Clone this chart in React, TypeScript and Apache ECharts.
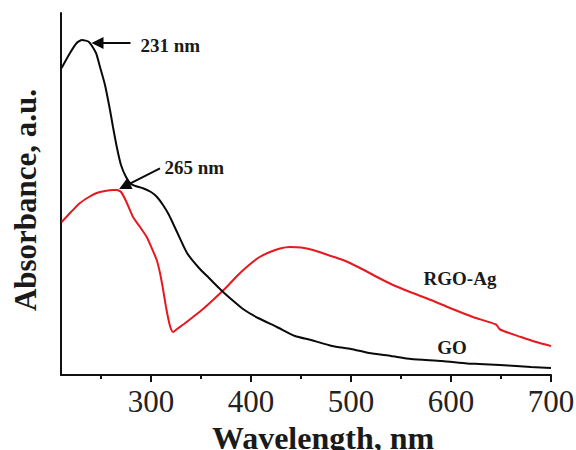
import React, { useEffect, useRef } from "react";
import * as echarts from "echarts";

// GO spectrum (wavelength in nm, absorbance in a.u.)
const goWavelength = [210.6, 219, 225.7, 231, 238, 245, 249, 254, 259, 262, 266, 270, 275, 280, 286, 292, 300, 306, 312, 318, 326, 336, 348, 358, 370, 380, 392, 407, 426, 444, 460, 481, 500, 518, 540, 560, 591, 616, 628, 649, 665, 680, 700];
const goAbsorbance = [3.07, 3.22, 3.32, 3.35, 3.33, 3.22, 3.08, 2.9, 2.65, 2.48, 2.27, 2.1, 1.98, 1.91, 1.885, 1.867, 1.83, 1.78, 1.7, 1.6, 1.43, 1.22, 1.07, 0.97, 0.85, 0.76, 0.66, 0.57, 0.48, 0.39, 0.35, 0.29, 0.26, 0.22, 0.19, 0.16, 0.14, 0.115, 0.11, 0.1, 0.09, 0.08, 0.07];

// RGO-Ag spectrum
const rgoWavelength = [210.7, 220, 229, 238, 245.7, 254, 262, 266, 270, 275, 282, 289, 295.7, 300.7, 305.7, 309, 312, 315, 318, 320, 322, 326, 333, 342, 352, 362, 375.7, 385, 395.7, 407, 419, 429, 439, 450, 462, 477, 492, 509, 526, 542, 559, 580, 599, 622, 645, 649, 670, 685, 700];
const rgoAbsorbance = [1.53, 1.63, 1.72, 1.78, 1.82, 1.84, 1.85, 1.85, 1.83, 1.74, 1.58, 1.48, 1.38, 1.27, 1.15, 1.02, 0.86, 0.68, 0.53, 0.46, 0.43, 0.46, 0.51, 0.58, 0.66, 0.75, 0.88, 0.98, 1.08, 1.17, 1.23, 1.265, 1.28, 1.275, 1.25, 1.2, 1.15, 1.07, 0.98, 0.9, 0.83, 0.75, 0.67, 0.58, 0.505, 0.455, 0.38, 0.33, 0.29];

// Axis ticks
const xMajorTicks = [300, 400, 500, 600, 700];
const xMinorTicks = [250, 350, 450, 550, 650];
const xMin = 210;
const xMax = 700;
const yMax = 3.62;

// Annotations (wavelength, absorbance)
const peak231Label = "231 nm";
const peak231Arrow = [[279.5, 3.32], [246.5, 3.32]];
const peak231Text = [289, 3.3];
const peak265Label = "265 nm";
const peak265Arrow = [[309, 2.067], [273.5, 1.887]];
const peak265Text = [313, 2.08];
const rgoLabel = "RGO-Ag";
const rgoLabelPos = [609, 0.97];
const goLabel = "GO";
const goLabelPos = [601, 0.28];

const serif = "'Liberation Serif', 'Times New Roman', serif";

export default function App() {
  const ref = useRef<HTMLDivElement>(null);
  useEffect(() => {
    if (!ref.current) return;
    const chart = echarts.init(ref.current, null, { renderer: "svg" });
    const goData = goWavelength.map((w, i) => [w, goAbsorbance[i]]);
    const rgoData = rgoWavelength.map((w, i) => [w, rgoAbsorbance[i]]);
    const annoLabel = {
      show: true,
      fontFamily: serif,
      fontWeight: "bold",
      fontSize: 19,
      color: "#1a1a1a",
    };
    const option: any = {
      animation: false,
      backgroundColor: "#ffffff",
      grid: { left: 61, right: 25, top: 13, bottom: 75, containLabel: false, outerBoundsMode: "none" },
      xAxis: {
        type: "value",
        min: xMin,
        max: xMax,
        position: "bottom",
        name: "Wavelength, nm",
        nameLocation: "middle",
        nameGap: 42,
        nameTextStyle: { fontFamily: serif, fontWeight: "bold", fontSize: 32, color: "#1a1a1a", padding: [0, 0, 0, 34] },
        axisLine: { show: true, lineStyle: { color: "#111", width: 2 } },
        axisTick: { show: false },
        axisLabel: { show: true, customValues: xMajorTicks, fontFamily: serif, fontSize: 31, color: "#222", margin: 11 },
        splitLine: { show: false },
      },
      yAxis: {
        type: "value",
        min: 0,
        max: yMax,
        name: "Absorbance, a.u.",
        nameLocation: "middle",
        nameGap: 20,
        nameTextStyle: { fontFamily: serif, fontWeight: "bold", fontSize: 31, color: "#1a1a1a", padding: [0, 12, 0, 0] },
        axisLine: { show: true, lineStyle: { color: "#111", width: 2 } },
        axisTick: { show: false },
        axisLabel: { show: false },
        splitLine: { show: false },
      },
      series: [
        {
          name: "RGO-Ag",
          type: "line",
          data: rgoData,
          showSymbol: false,
          smooth: 0.2,
          lineStyle: { color: "#e5191f", width: 2 },
          itemStyle: { color: "#e5191f" },
          z: 2,
        },
        {
          name: "GO",
          type: "line",
          data: goData,
          showSymbol: false,
          smooth: 0.2,
          lineStyle: { color: "#0a0a0a", width: 2 },
          itemStyle: { color: "#0a0a0a" },
          z: 3,
          markLine: {
            silent: true,
            symbol: ["none", "triangle"],
            symbolSize: 12,
            label: { show: false },
            lineStyle: { color: "#0a0a0a", width: 2, type: "solid" },
            emphasis: { disabled: true },
            data: [
              [{ coord: peak231Arrow[0], symbol: "none" }, { coord: peak231Arrow[1], symbol: "triangle", symbolSize: 12 }],
              [{ coord: peak265Arrow[0], symbol: "none" }, { coord: peak265Arrow[1], symbol: "triangle", symbolSize: 12 }],
            ],
          },
          markPoint: {
            silent: true,
            symbol: "circle",
            symbolSize: 1,
            itemStyle: { color: "rgba(0,0,0,0)" },
            data: [
              { coord: peak231Text, label: { ...annoLabel, formatter: peak231Label, position: "right", distance: 0 } },
              { coord: peak265Text, label: { ...annoLabel, formatter: peak265Label, position: "right", distance: 0 } },
              { coord: rgoLabelPos, label: { ...annoLabel, formatter: rgoLabel, position: "inside" } },
              { coord: goLabelPos, label: { ...annoLabel, formatter: goLabel, position: "inside" } },
            ],
          },
        },
      ],
    };
    chart.setOption(option);

    // Axis ticks placed through the x-axis scale
    const tickLines: any[] = [];
    const addTicks = (values: number[], len: number) => {
      values.forEach((v) => {
        const p = chart.convertToPixel({ gridIndex: 0 }, [v, 0]) as number[];
        if (!p) return;
        tickLines.push({
          type: "line",
          silent: true,
          z: 10,
          shape: { x1: p[0], y1: p[1], x2: p[0], y2: p[1] + len },
          style: { stroke: "#111", lineWidth: 2 },
        });
      });
    };
    addTicks(xMajorTicks, 7);
    addTicks(xMinorTicks, 4);
    chart.setOption({ graphic: tickLines });

    return () => chart.dispose();
  }, []);
  return (
    <div
      ref={ref}
      style={{ position: "absolute", left: 0, top: 0, width: 576, height: 450, background: "#fff" }}
    />
  );
}
